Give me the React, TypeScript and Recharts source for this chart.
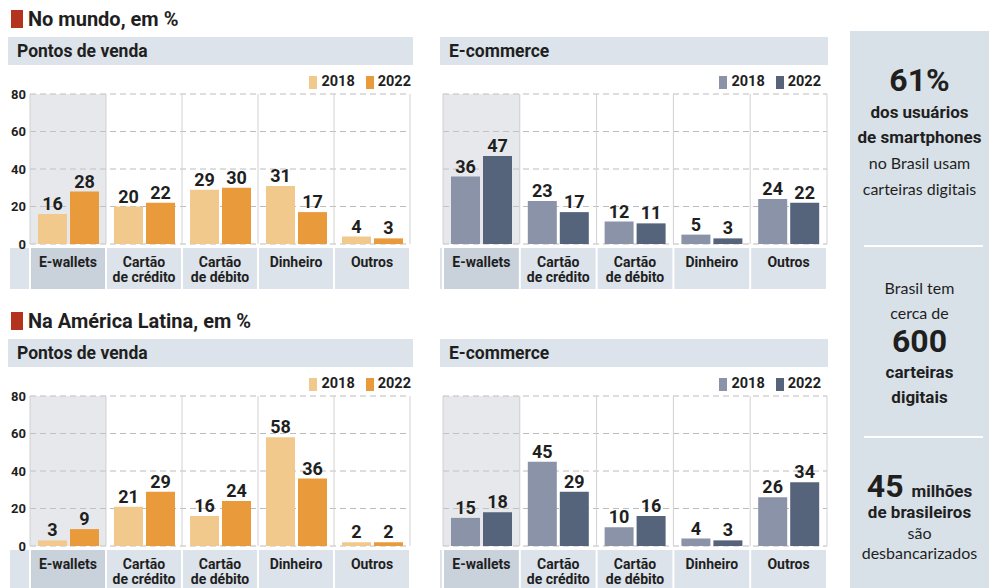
import React from 'react';
import { BarChart, Bar, XAxis, YAxis, CartesianGrid, LabelList, ReferenceArea } from 'recharts';

// categories and years
const categories = ['E-wallets', 'Cartão de crédito', 'Cartão de débito', 'Dinheiro', 'Outros'];
const years = ['2018', '2022'];
const yTicks = [0, 20, 40, 60, 80];

// No mundo, em %
const mundoVenda2018 = [16, 20, 29, 31, 4];
const mundoVenda2022 = [28, 22, 30, 17, 3];
const mundoEcom2018 = [36, 23, 12, 5, 24];
const mundoEcom2022 = [47, 17, 11, 3, 22];

// Na América Latina, em %
const latamVenda2018 = [3, 21, 16, 58, 2];
const latamVenda2022 = [9, 29, 24, 36, 2];
const latamEcom2018 = [15, 45, 10, 4, 26];
const latamEcom2022 = [18, 29, 16, 3, 34];

const ORANGE = ['#f2c98c', '#e99a3b'];
const SLATE = ['#8a93a8', '#55637b'];

const FONT = 'Roboto, "Noto Sans", sans-serif';
const SIDE_FONT = 'Lato, "Open Sans", sans-serif';
const BAND = '#dce3ea';
const BAND_DARK = '#c9d1db';
const INK = '#1f1f1f';

type Row = { name: string; a: number; b: number };

const toRows = (a: number[], b: number[]): Row[] =>
  categories.map((name, i) => ({ name, a: a[i], b: b[i] }));

const CategoryTick = (props: any) => {
  const { x, y, payload, index, bandW, stripLeft } = props;
  const x0 = x - bandW / 2;
  const parts = String(payload.value).split(' de ');
  const lines = parts.length > 1 ? [parts[0], 'de ' + parts[1]] : [parts[0]];
  return (
    <g>
      {index === 0 && x0 - 1 - stripLeft > 0 && (
        <rect x={stripLeft} y={y + 4} width={x0 - 1 - stripLeft} height={41} fill={BAND} />
      )}
      <rect x={x0 + 1} y={y + 4} width={bandW - 2} height={41} fill={index === 0 ? BAND_DARK : BAND} />
      {lines.map((l, i) => (
        <text
          key={i}
          x={x}
          y={y + 23 + i * 15}
          textAnchor="middle"
          fontFamily={FONT}
          fontWeight={700}
          fontSize={14}
          fill={INK}
        >
          {l}
        </text>
      ))}
    </g>
  );
};

type PanelProps = {
  left: number;
  top: number;
  headerW: number;
  chartW: number;
  title: string;
  rows: Row[];
  colors: string[];
  showY: boolean;
  legendRight: number;
};

const Panel = ({ left, top, headerW, chartW, title, rows, colors, showY, legendRight }: PanelProps) => {
  const mLeft = showY ? 0 : 3;
  const yW = showY ? 30 : 0;
  const mRight = 3;
  const bandW = (chartW - mLeft - yW - mRight) / categories.length;
  const chartLeft = showY ? 0 : left;
  const stripLeft = showY ? 10 : 0;

  return (
    <>
      <div
        style={{
          position: 'absolute',
          left,
          top,
          width: headerW,
          height: 28,
          background: BAND,
          fontFamily: FONT,
          fontWeight: 700,
          fontSize: 17.5,
          lineHeight: '28px',
          color: INK,
          paddingLeft: 9,
          boxSizing: 'border-box',
        }}
      >
        {title}
      </div>
      <div
        style={{
          position: 'absolute',
          left: 0,
          width: legendRight,
          top: top + 38,
          height: 14,
          display: 'flex',
          justifyContent: 'flex-end',
          gap: 11,
          fontFamily: FONT,
          fontWeight: 700,
          fontSize: 14.5,
          lineHeight: '14px',
          color: INK,
        }}
      >
        {years.map((yr, i) => (
          <span key={yr} style={{ display: 'flex', alignItems: 'center', gap: 4 }}>
            <span style={{ display: 'inline-block', width: 8, height: 13, background: colors[i] }} />
            {yr}
          </span>
        ))}
      </div>
      <div style={{ position: 'absolute', left: chartLeft, top: top + 29 }}>
        <BarChart
          width={chartW}
          height={226}
          data={rows}
          margin={{ top: 28, right: mRight, bottom: 0, left: mLeft }}
          barCategoryGap={8}
          barGap={3}
        >
          <CartesianGrid vertical={false} stroke="#bcbcbc" strokeDasharray="6 4" />
          <CartesianGrid
            horizontal={false}
            stroke="#d2d2d2"
            verticalCoordinatesGenerator={({ offset }: any) =>
              categories.concat(['']).map((_, i) => offset.left + (i * offset.width) / categories.length)
            }
          />
          <ReferenceArea x1="E-wallets" x2="E-wallets" fill="#c3c8d0" fillOpacity={0.42} stroke="none" />
          <XAxis
            dataKey="name"
            interval={0}
            axisLine={false}
            tickLine={false}
            tickSize={0}
            tickMargin={0}
            height={48}
            tick={(p: any) => <CategoryTick {...p} bandW={bandW} stripLeft={stripLeft} />}
          />
          <YAxis
            hide={!showY}
            domain={[0, 80]}
            ticks={yTicks}
            width={yW}
            axisLine={false}
            tickLine={false}
            tickSize={0}
            tickMargin={4}
            tick={{ fontFamily: FONT, fontWeight: 700, fontSize: 13, fill: INK }}
          />
          <Bar dataKey="a" name={years[0]} fill={colors[0]} isAnimationActive={false}>
            <LabelList
              dataKey="a"
              position="top"
              offset={4}
              style={{ fontFamily: FONT, fontWeight: 700, fontSize: 18, fill: INK }}
            />
          </Bar>
          <Bar dataKey="b" name={years[1]} fill={colors[1]} isAnimationActive={false}>
            <LabelList
              dataKey="b"
              position="top"
              offset={4}
              style={{ fontFamily: FONT, fontWeight: 700, fontSize: 18, fill: INK }}
            />
          </Bar>
        </BarChart>
      </div>
    </>
  );
};

const Title = ({ top, text }: { top: number; text: string }) => (
  <div style={{ position: 'absolute', left: 11, top, height: 18, display: 'flex', alignItems: 'center' }}>
    <span style={{ display: 'inline-block', width: 12, height: 18, background: '#b3331f', marginRight: 5 }} />
    <span style={{ fontFamily: FONT, fontWeight: 700, fontSize: 20, color: INK, whiteSpace: 'nowrap' }}>{text}</span>
  </div>
);

const Side = ({ y, size, bold, children }: { y: number; size: number; bold?: boolean; children: React.ReactNode }) => (
  <div
    style={{
      position: 'absolute',
      left: 850,
      width: 139,
      top: y - size / 2,
      height: size,
      lineHeight: size + 'px',
      textAlign: 'center',
      fontFamily: bold ? FONT : SIDE_FONT,
      fontSize: size,
      fontWeight: bold ? 700 : 400,
      color: INK,
      whiteSpace: 'nowrap',
    }}
  >
    {children}
  </div>
);

export default function App() {
  return (
    <div style={{ position: 'absolute', left: 0, top: 0, width: 989, height: 588, background: '#fff', overflow: 'hidden' }}>
      <Title top={10} text="No mundo, em %" />
      <Title top={312} text="Na América Latina, em %" />

      <Panel left={8} top={37} headerW={405} chartW={413} title="Pontos de venda"
        rows={toRows(mundoVenda2018, mundoVenda2022)} colors={ORANGE} showY legendRight={411} />
      <Panel left={440} top={37} headerW={388} chartW={390} title="E-commerce"
        rows={toRows(mundoEcom2018, mundoEcom2022)} colors={SLATE} showY={false} legendRight={821} />
      <Panel left={8} top={339} headerW={405} chartW={413} title="Pontos de venda"
        rows={toRows(latamVenda2018, latamVenda2022)} colors={ORANGE} showY legendRight={411} />
      <Panel left={440} top={339} headerW={388} chartW={390} title="E-commerce"
        rows={toRows(latamEcom2018, latamEcom2022)} colors={SLATE} showY={false} legendRight={821} />

      {/* side box */}
      <div style={{ position: 'absolute', left: 850, top: 31, width: 139, height: 557, background: '#d9e1e8' }} />
      <div style={{ position: 'absolute', left: 864, top: 245, width: 119, height: 2, background: '#fff' }} />
      <div style={{ position: 'absolute', left: 864, top: 436, width: 119, height: 2, background: '#fff' }} />

      <Side y={80} size={32} bold>61%</Side>
      <Side y={112} size={17} bold>dos usuários</Side>
      <Side y={137} size={17} bold>de smartphones</Side>
      <Side y={163} size={16}>no Brasil usam</Side>
      <Side y={189} size={16}>carteiras digitais</Side>

      <Side y={288} size={16}>Brasil tem</Side>
      <Side y={313} size={16}>cerca de</Side>
      <Side y={341} size={32} bold>600</Side>
      <Side y={372} size={17} bold>carteiras</Side>
      <Side y={397} size={17} bold>digitais</Side>

      <Side y={486} size={32} bold>
        45 <span style={{ fontSize: 17 }}>milhões</span>
      </Side>
      <Side y={512} size={17} bold>de brasileiros</Side>
      <Side y={533} size={16}>são</Side>
      <Side y={553} size={16}>desbancarizados</Side>
    </div>
  );
}
